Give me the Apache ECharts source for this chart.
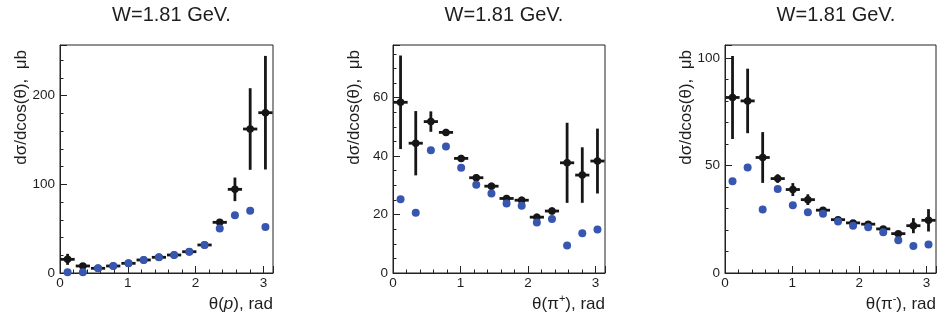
<!DOCTYPE html>
<html>
<head>
<meta charset="utf-8">
<script src="https://cdn.jsdelivr.net/npm/echarts@6/dist/echarts.min.js"></script>
<style>
html,body{margin:0;padding:0;background:#fff;}
#chart{width:939px;height:325px;}
</style>
</head>
<body>
<div id="chart"></div>
<script>
// ---- data ----
const titles = ['W=1.81 GeV.', 'W=1.81 GeV.', 'W=1.81 GeV.'];
const thetaCenters = [0.112, 0.337, 0.561, 0.785, 1.010, 1.234, 1.459, 1.683, 1.907, 2.132, 2.356, 2.580, 2.805, 3.030];
const binHalfWidth = 0.105;

// proton
const protonData  = [15.4, 7.9, 5.3, 7.9, 10.9, 14.7, 17.7, 20.3, 24.0, 31.6, 57.1, 94.3, 162.3, 180.7];
const protonErr   = [6.2, 2.0, 1.0, 1.0, 1.0, 1.0, 1.0, 1.0, 1.0, 1.0, 3.0, 13.3, 46.0, 64.0];
const protonModel = [0.8, 0.8, 5.3, 7.9, 10.9, 14.7, 17.7, 20.3, 24.0, 31.6, 50.3, 65.0, 70.3, 51.9];

// pi+
const pipData  = [58.4, 44.4, 51.8, 48.1, 39.2, 32.6, 29.7, 25.5, 24.9, 19.1, 21.2, 37.7, 33.5, 38.3];
const pipErr   = [16.0, 11.0, 3.5, 1.2, 1.2, 1.2, 1.2, 1.2, 1.2, 1.2, 1.2, 13.7, 9.5, 11.1];
const pipModel = [25.2, 20.6, 42.0, 43.3, 36.0, 30.2, 27.2, 23.8, 23.0, 17.3, 18.5, 9.4, 13.6, 14.9];

// pi-
const pimData  = [81.6, 80.0, 53.7, 43.9, 38.8, 34.1, 29.2, 24.8, 23.3, 22.7, 20.5, 18.3, 22.0, 24.5];
const pimErr   = [19.3, 15.0, 11.8, 2.0, 3.0, 2.5, 1.2, 1.0, 1.0, 1.0, 1.0, 1.0, 3.5, 5.2];
const pimModel = [42.7, 49.0, 29.5, 39.1, 31.5, 28.2, 27.6, 23.9, 22.0, 21.3, 18.9, 15.2, 12.6, 13.3];

// axes
const xMax = Math.PI;
const xMajorInterval = 1;
const xMinorInterval = 0.2;
const yMaxes = [257, 78, 106];
const yMajorIntervals = [100, 20, 50];
const yMinorIntervals = [20, 5, 10];
const yTitle = 'dσ/dcos(θ),  μb';
const xTitles = ['{n|θ(}{i|p}{n|), rad}', '{n|θ(π}{s|+}{n|), rad}', '{n|θ(π}{s|-}{n|), rad}'];

// ---- layout ----
const FONT = '"Liberation Sans", Arial, Helvetica, sans-serif';
const TXT = '#1e1e1e';
const grids = [
  {left: 60, top: 45, width: 213, height: 228},
  {left: 393, top: 45, width: 212, height: 228},
  {left: 725, top: 45, width: 212, height: 228}
];
const xNamePad = [23, 20, 20];
const panels = [
  {data: protonData, err: protonErr, model: protonModel},
  {data: pipData, err: pipErr, model: pipModel},
  {data: pimData, err: pimErr, model: pimModel}
];

function isMultiple(v, step) {
  const r = v / step;
  return Math.abs(r - Math.round(r)) < 1e-6;
}

const option = {
  animation: false,
  backgroundColor: '#fff',
  title: [], grid: [], xAxis: [], yAxis: [], series: [], graphic: []
};

grids.forEach((g, i) => {
  option.grid.push(Object.assign({
    show: true, borderColor: '#222', borderWidth: 1, backgroundColor: 'transparent'
  }, g));
  option.title.push({
    text: titles[i],
    left: g.left + g.width / 2,
    top: 0,
    textAlign: 'center',
    textStyle: {fontFamily: FONT, fontSize: 20, fontWeight: 'normal', color: TXT}
  });
  // main x axis
  option.xAxis.push({
    type: 'value', gridIndex: i, min: 0, max: xMax, interval: xMajorInterval,
    position: 'bottom',
    axisLine: {show: true, onZero: false, lineStyle: {color: '#222', width: 1}},
    axisTick: {show: true, inside: true, length: 7, lineStyle: {color: '#222', width: 1}},
    axisLabel: {
      show: true, margin: 3, fontFamily: FONT, fontSize: 13.5, color: TXT,
      formatter: v => isMultiple(v, xMajorInterval) ? String(Math.round(v)) : ''
    },
    splitLine: {show: false},
    name: xTitles[i], nameLocation: 'end', nameGap: 0,
    nameTextStyle: {
      align: 'right', verticalAlign: 'top', padding: [xNamePad[i], 0, 0, 0],
      rich: {
        n: {fontFamily: FONT, fontSize: 17, color: TXT, verticalAlign: 'bottom'},
        i: {fontFamily: FONT, fontSize: 17, color: TXT, fontStyle: 'italic', verticalAlign: 'bottom'},
        s: {fontFamily: FONT, fontSize: 11, color: TXT, verticalAlign: 'bottom', padding: [0, 0, 9, 0]}
      }
    }
  });
  // minor x ticks
  option.xAxis.push({
    type: 'value', gridIndex: i, min: 0, max: xMax, interval: xMinorInterval,
    position: 'bottom', offset: 0,
    axisLine: {show: false},
    axisTick: {show: true, inside: true, length: 3.5, lineStyle: {color: '#222', width: 1}},
    axisLabel: {show: false},
    splitLine: {show: false}
  });
  // main y axis
  option.yAxis.push({
    type: 'value', gridIndex: i, min: 0, max: yMaxes[i], interval: yMajorIntervals[i],
    position: 'left',
    axisLine: {show: true, onZero: false, lineStyle: {color: '#222', width: 1}},
    axisTick: {show: true, inside: true, length: 7, lineStyle: {color: '#222', width: 1}},
    axisLabel: {
      show: true, margin: 5, fontFamily: FONT, fontSize: 13.5, color: TXT,
      formatter: v => isMultiple(v, yMajorIntervals[i]) ? String(Math.round(v)) : ''
    },
    splitLine: {show: false}
  });
  // minor y ticks
  option.yAxis.push({
    type: 'value', gridIndex: i, min: 0, max: yMaxes[i], interval: yMinorIntervals[i],
    position: 'left', offset: 0,
    axisLine: {show: false},
    axisTick: {show: true, inside: true, length: 3.5, lineStyle: {color: '#222', width: 1}},
    axisLabel: {show: false},
    splitLine: {show: false}
  });
  // y axis title (rotated)
  option.graphic.push({
    type: 'text',
    x: g.left - 39, y: g.top + 5,
    rotation: Math.PI / 2,
    style: {text: yTitle, font: '17px ' + FONT, fill: TXT, align: 'right', verticalAlign: 'middle'}
  });

  const p = panels[i];
  const measured = thetaCenters.map((x, k) => [x, p.data[k], p.err[k]]);
  const model = thetaCenters.map((x, k) => [x, p.model[k]]);

  option.series.push({
    type: 'custom', xAxisIndex: 2 * i, yAxisIndex: 2 * i, z: 2,
    data: measured,
    renderItem: (params, api) => {
      const x = api.value(0), y = api.value(1), e = api.value(2);
      const c = api.coord([x, y]);
      const l = api.coord([x - binHalfWidth, y]);
      const r = api.coord([x + binHalfWidth, y]);
      const t = api.coord([x, y + e]);
      const b = api.coord([x, y - e]);
      const st = {stroke: '#161616', lineWidth: 2.8};
      return {type: 'group', children: [
        {type: 'line', shape: {x1: l[0], y1: c[1], x2: r[0], y2: c[1]}, style: st},
        {type: 'line', shape: {x1: c[0], y1: t[1], x2: c[0], y2: b[1]}, style: st}
      ]};
    }
  });
  option.series.push({
    type: 'scatter', xAxisIndex: 2 * i, yAxisIndex: 2 * i, z: 3,
    data: measured.map(d => [d[0], d[1]]),
    symbol: 'circle', symbolSize: 7.5,
    itemStyle: {color: '#161616', opacity: 1}
  });
  option.series.push({
    type: 'scatter', xAxisIndex: 2 * i, yAxisIndex: 2 * i, z: 4,
    data: model,
    symbol: 'circle', symbolSize: 8,
    itemStyle: {color: '#3756b0', opacity: 1}
  });
});

const chart = echarts.init(document.getElementById('chart'), null, {renderer: 'canvas'});
chart.setOption(option);
</script>
</body>
</html>
